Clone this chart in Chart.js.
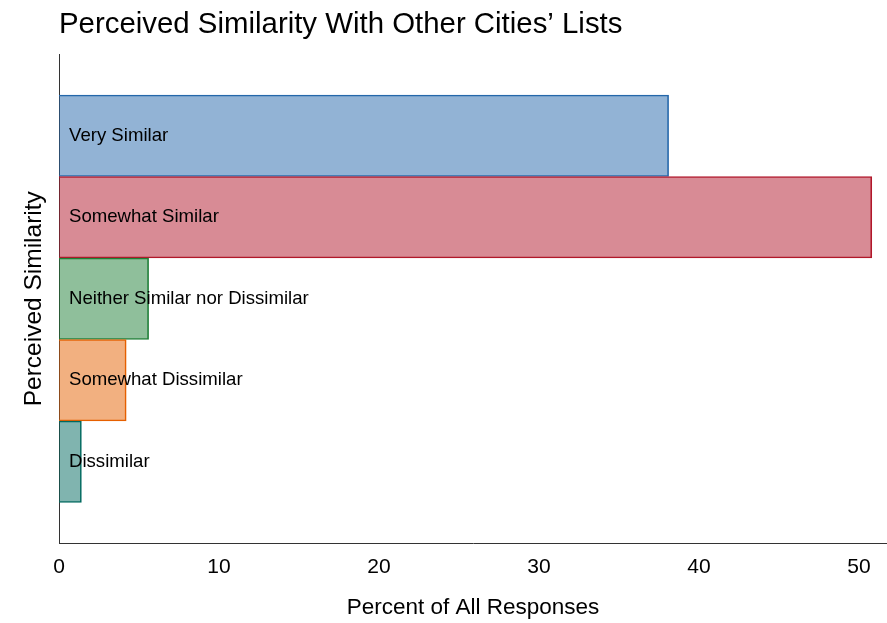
<!DOCTYPE html>
<html>
<head>
<meta charset="utf-8">
<script src="https://cdn.jsdelivr.net/npm/chart.js@4"></script>
<style>
  html, body { margin: 0; padding: 0; background: #fff; }
  #c { display: block; }
</style>
</head>
<body>
<canvas id="c" width="887" height="623" style="width:887px;height:623px"></canvas>
<script>
const categories = ['Very Similar', 'Somewhat Similar', 'Neither Similar nor Dissimilar', 'Somewhat Dissimilar', 'Dissimilar'];
const percents = [38.1, 50.8, 5.6, 4.2, 1.4];
const xTicks = [0, 10, 20, 30, 40, 50];
const strongColors = ['rgb(37,103,171)', 'rgb(178,24,43)', 'rgb(31,127,55)', 'rgb(230,97,1)', 'rgb(1,105,95)'];
const fillColors = ['rgba(37,103,171,0.5)', 'rgba(178,24,43,0.5)', 'rgba(31,127,55,0.5)', 'rgba(230,97,1,0.5)', 'rgba(1,105,95,0.5)'];

const FONT = '"Liberation Sans", Arial, Helvetica, sans-serif';

const barLabels = {
  id: 'barLabels',
  afterDatasetsDraw(chart) {
    const meta = chart.getDatasetMeta(0);
    const ctx = chart.ctx;
    ctx.save();
    ctx.font = '18.6px ' + FONT;
    ctx.fillStyle = '#000';
    ctx.textAlign = 'left';
    ctx.textBaseline = 'middle';
    meta.data.forEach((bar, i) => {
      ctx.fillText(categories[i], chart.chartArea.left + 10, bar.y);
    });
    ctx.restore();
  }
};

new Chart(document.getElementById('c'), {
  type: 'bar',
  data: {
    datasets: [{
      data: categories.map((c, i) => ({ x: percents[i], y: i + 1 })),
      backgroundColor: fillColors,
      borderColor: strongColors,
      borderWidth: 1,
      barThickness: 'flex',
      barPercentage: 1,
      categoryPercentage: 1
    }]
  },
  options: {
    indexAxis: 'y',
    responsive: false,
    animation: false,
    layout: { padding: { left: 0, right: 0, top: 0, bottom: 0 } },
    plugins: {
      legend: { display: false },
      tooltip: { enabled: false },
      title: {
        display: true,
        text: 'Perceived Similarity With Other Cities\u2019 Lists',
        align: 'start',
        fullSize: false,
        color: '#000',
        font: { family: FONT, size: 29.4, weight: 'normal' },
        padding: { top: 7.5, bottom: 11.5 }
      }
    },
    scales: {
      x: {
        type: 'linear',
        min: 0,
        max: 51.75,
        afterBuildTicks(scale) { scale.ticks = xTicks.map(v => ({ value: v })); },
        grid: { display: false, drawTicks: false },
        border: { display: true, color: '#333', width: 1 },
        ticks: { color: '#000', padding: 11, maxRotation: 0, font: { family: FONT, size: 21 } },
        title: {
          display: true,
          text: 'Percent of All Responses',
          color: '#000',
          font: { family: FONT, size: 22.5 },
          padding: { top: 3.8, bottom: 1.8 }
        }
      },
      y: {
        type: 'linear',
        reverse: true,
        offset: false,
        min: 0,
        max: 6,
        afterBuildTicks(scale) { scale.ticks = [0, 1, 2, 3, 4, 5, 6].map(v => ({ value: v })); },
        grid: { display: false, drawTicks: false, offset: false },
        border: { display: true, color: '#333', width: 1 },
        ticks: { display: false },
        title: {
          display: true,
          text: 'Perceived Similarity',
          color: '#000',
          font: { family: FONT, size: 24.5 },
          padding: { top: 19.3, bottom: 10.3 }
        }
      }
    }
  },
  plugins: [barLabels]
});
</script>
</body>
</html>
